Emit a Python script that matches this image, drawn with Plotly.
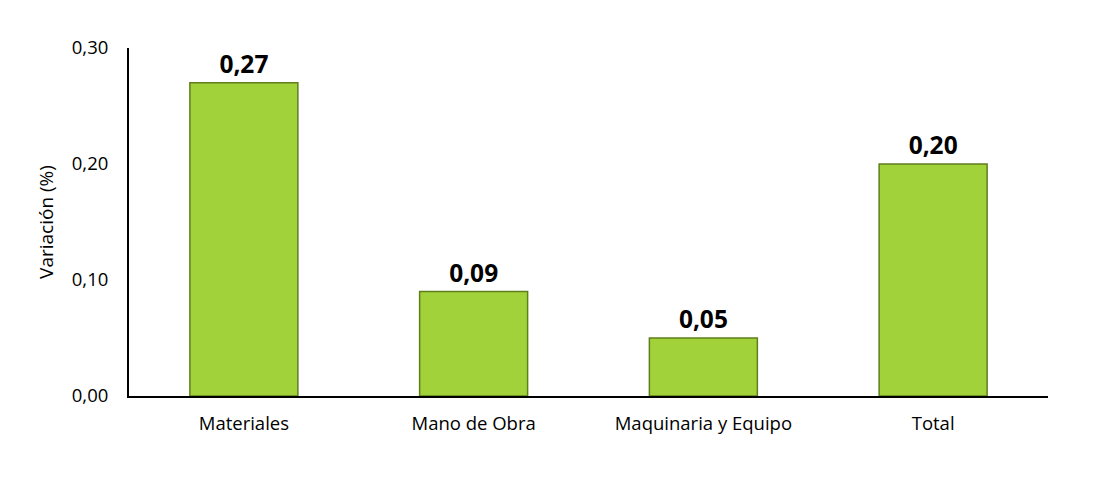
import plotly.graph_objects as go

categories = ["Materiales", "Mano de Obra", "Maquinaria y Equipo", "Total"]
values = [0.27, 0.09, 0.05, 0.20]
y_ticks = [0.0, 0.10, 0.20, 0.30]
y_title = "Variación (%)"

# page body has an 8px margin; figure sized to fit the window
W, H = 1095, 479
L, R, T, B = 121, 55, 40, 91

fig = go.Figure()
fig.add_trace(go.Bar(
    x=categories, y=values,
    width=0.47,
    marker=dict(color="#A2D23A", line=dict(color="#5F7F1C", width=1.5)),
    text=values, texttemplate="<b>%{y:.2f}</b>", textposition="outside",
    textfont=dict(size=24.5, color="#000000", family="Open Sans"),
    cliponaxis=False,
))

fig.update_layout(
    width=W, height=H,
    margin=dict(l=L, r=R, t=T, b=B),
    paper_bgcolor="#ffffff", plot_bgcolor="rgba(0,0,0,0)",
    separators=",.",
    showlegend=False,
    font=dict(family="Open Sans", size=18.5, color="#000000"),
    bargap=0.53,
    xaxis=dict(showline=True, linecolor="#000000", linewidth=2,
               showgrid=False, ticks="", ticklabelstandoff=10,
               tickfont=dict(size=18.5)),
    yaxis=dict(range=[0, 0.30], tickvals=y_ticks, tickformat=".2f",
               showline=True, linecolor="#000000", linewidth=2,
               showgrid=False, zeroline=False, ticks="",
               ticklabelstandoff=15, tickfont=dict(size=18.5),
               title=dict(text=y_title, font=dict(size=19), standoff=13)),
)

fig.write_html("out.html")
